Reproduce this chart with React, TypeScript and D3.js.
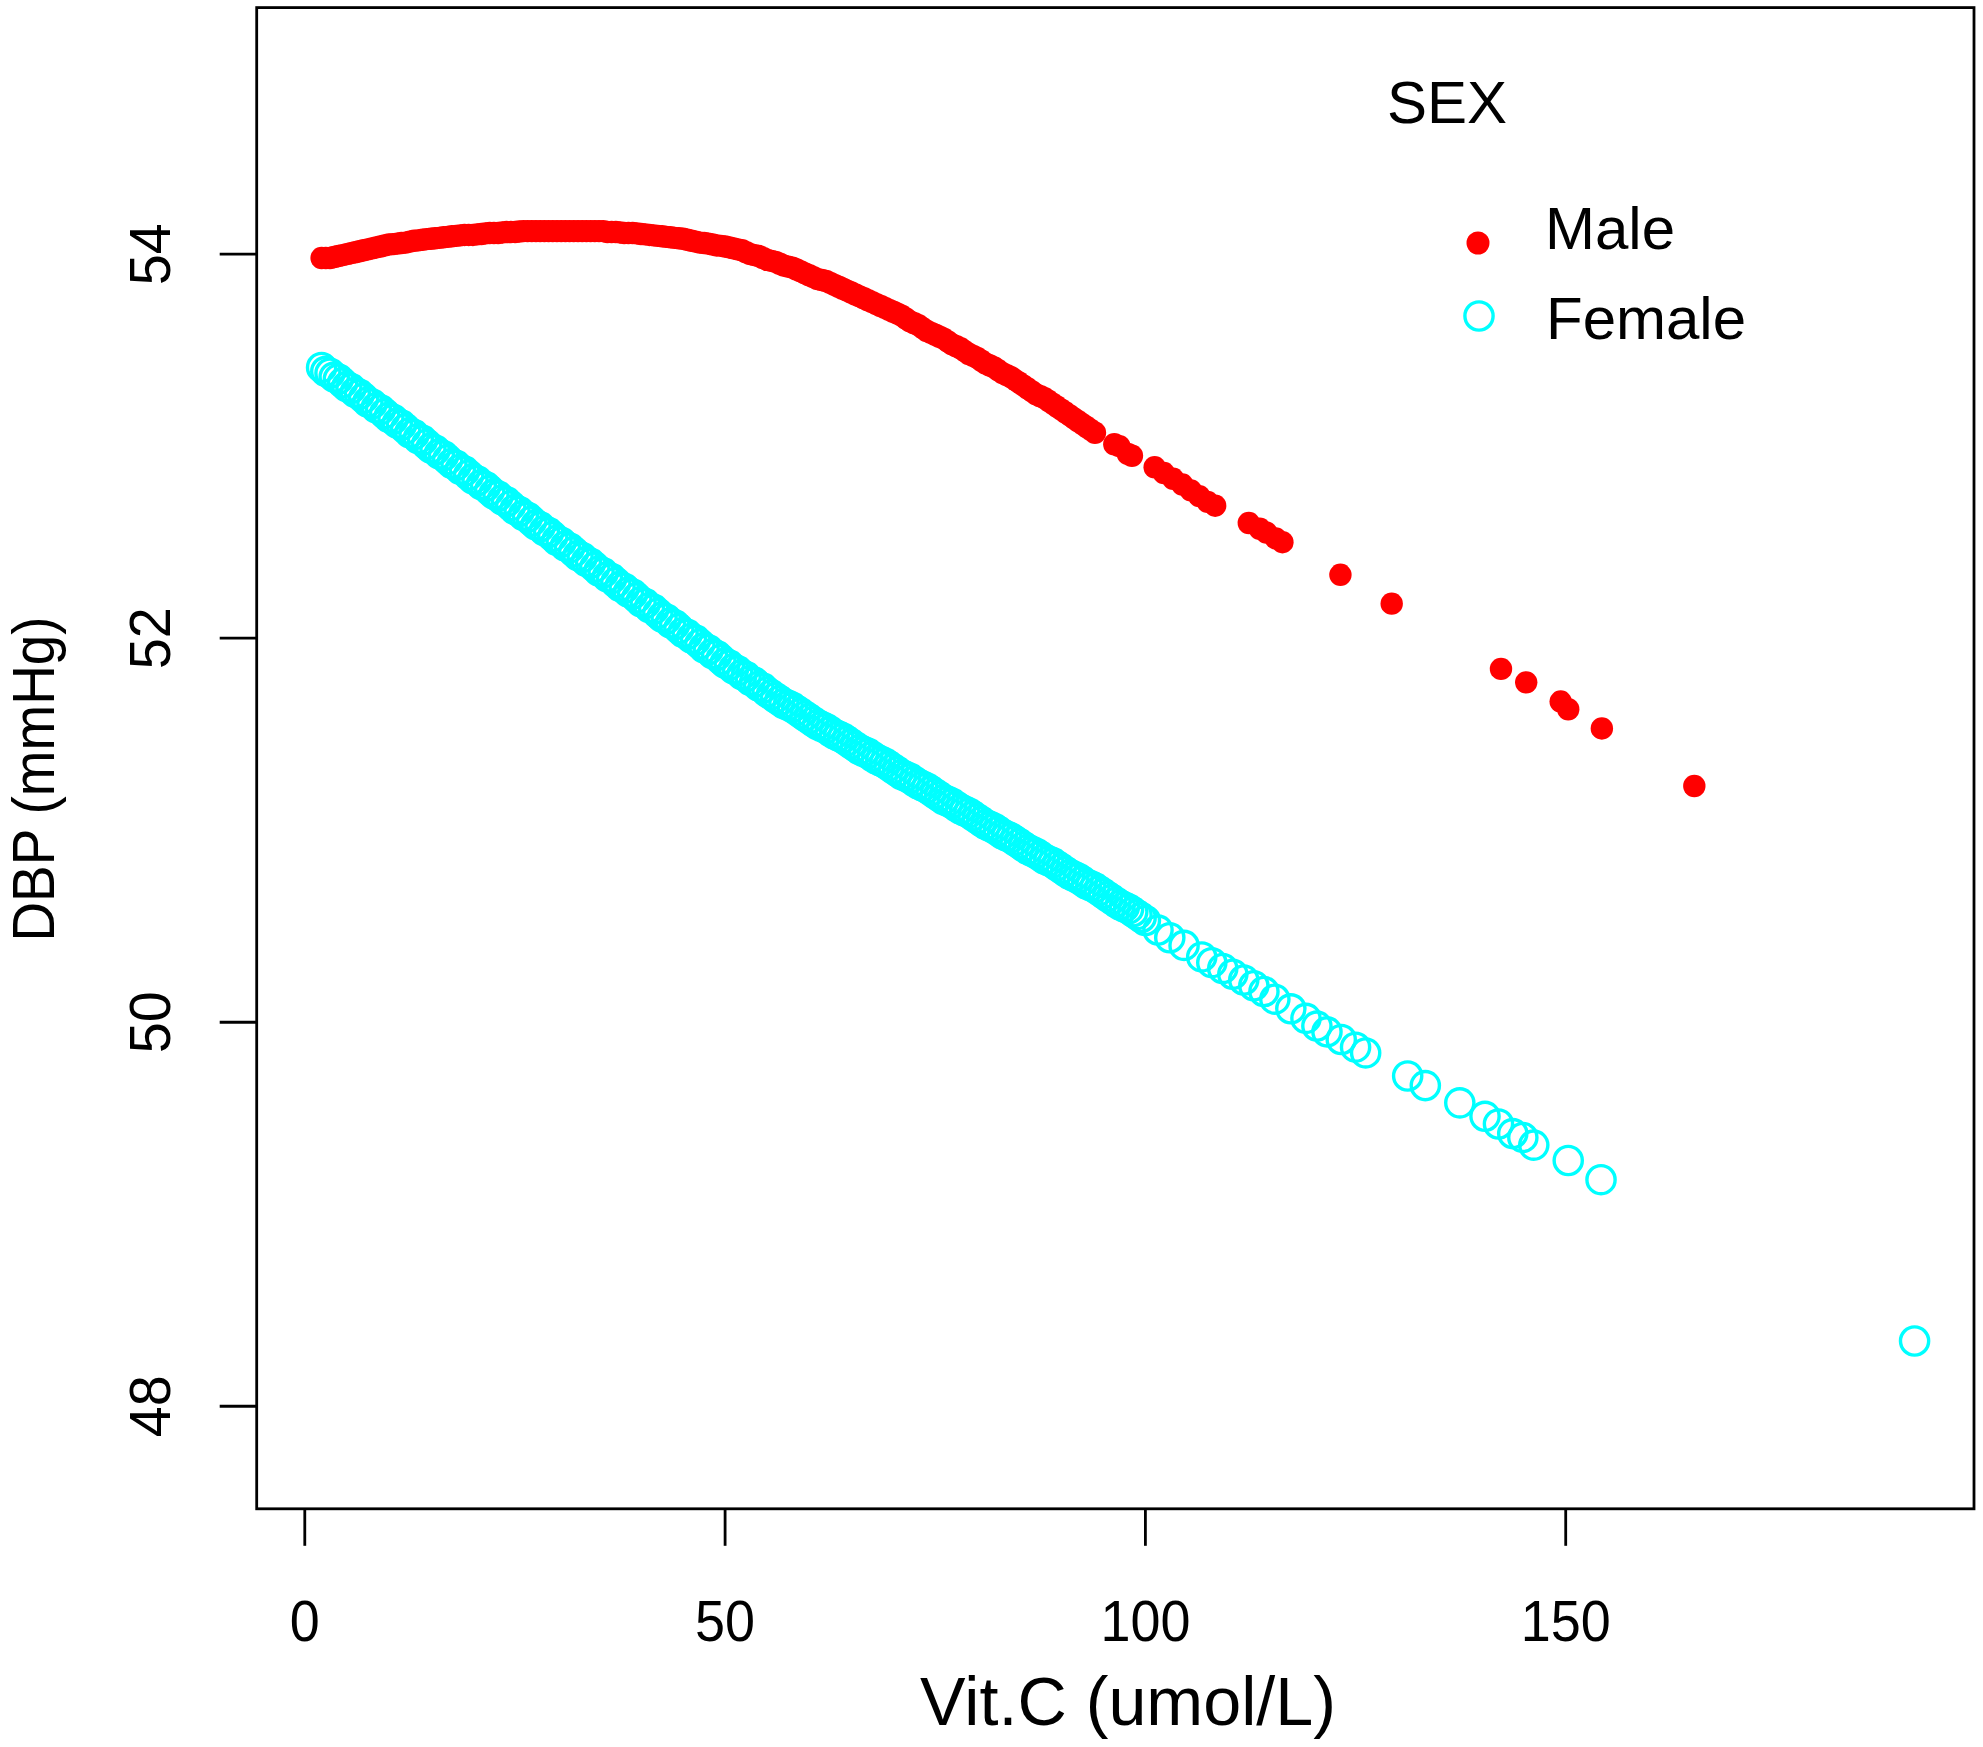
import * as d3 from 'd3'

// values (Vit.C umol/L, DBP mmHg)
const malePoints: [number, number][] = [
    [2, 53.98], [2.5, 53.98], [3, 53.98], [3.5, 53.985], [4, 53.99], [4.5, 53.995], [5, 54.0],
    [5.5, 54.005], [6, 54.01], [6.5, 54.015], [7, 54.02], [7.5, 54.025], [8, 54.03], [8.5, 54.035],
    [9, 54.04], [9.5, 54.045], [10, 54.05], [10.5, 54.052], [11, 54.055], [11.5, 54.058], [12, 54.06],
    [12.5, 54.065], [13, 54.07], [13.5, 54.072], [14, 54.075], [14.5, 54.078], [15, 54.08],
    [15.5, 54.083], [16, 54.085], [16.5, 54.088], [17, 54.09], [17.5, 54.093], [18, 54.095],
    [18.5, 54.098], [19, 54.1], [19.5, 54.1], [20, 54.1], [20.5, 54.103], [21, 54.105], [21.5, 54.108],
    [22, 54.11], [22.5, 54.11], [23, 54.11], [23.5, 54.113], [24, 54.115], [24.5, 54.115], [25, 54.115],
    [25.5, 54.118], [26, 54.12], [26.5, 54.12], [27, 54.12], [27.5, 54.12], [28, 54.12], [28.5, 54.12],
    [29, 54.12], [29.5, 54.12], [30, 54.12], [30.5, 54.12], [31, 54.12], [31.5, 54.12], [32, 54.12],
    [32.5, 54.12], [33, 54.12], [33.5, 54.12], [34, 54.12], [34.5, 54.12], [35, 54.12], [35.5, 54.12],
    [36, 54.115], [36.5, 54.115], [37, 54.115], [37.5, 54.113], [38, 54.11], [38.5, 54.11], [39, 54.11],
    [39.5, 54.108], [40, 54.105], [40.5, 54.103], [41, 54.1], [41.5, 54.098], [42, 54.095],
    [42.5, 54.093], [43, 54.09], [43.5, 54.088], [44, 54.085], [44.5, 54.083], [45, 54.08],
    [45.5, 54.075], [46, 54.07], [46.5, 54.065], [47, 54.06], [47.5, 54.058], [48, 54.055],
    [48.5, 54.05], [49, 54.045], [49.5, 54.043], [50, 54.04], [50.5, 54.035], [51, 54.03],
    [51.5, 54.025], [52, 54.02], [52.5, 54.01], [53, 54.0], [53.5, 53.995], [54, 53.99], [54.5, 53.98],
    [55, 53.97], [55.5, 53.965], [56, 53.96], [56.5, 53.95], [57, 53.94], [57.5, 53.935], [58, 53.93],
    [58.5, 53.92], [59, 53.91], [59.5, 53.9], [60, 53.89], [60.5, 53.88], [61, 53.87], [61.5, 53.865],
    [62, 53.86], [62.5, 53.85], [63, 53.84], [63.5, 53.83], [64, 53.82], [64.5, 53.81], [65, 53.8],
    [65.5, 53.79], [66, 53.78], [66.5, 53.77], [67, 53.76], [67.5, 53.75], [68, 53.74], [68.5, 53.73],
    [69, 53.72], [69.5, 53.71], [70, 53.7], [70.5, 53.69], [71, 53.68], [71.5, 53.665], [72, 53.65],
    [72.5, 53.64], [73, 53.63], [73.5, 53.615], [74, 53.6], [74.5, 53.59], [75, 53.58], [75.5, 53.57],
    [76, 53.56], [76.5, 53.545], [77, 53.53], [77.5, 53.52], [78, 53.51], [78.5, 53.495], [79, 53.48],
    [79.5, 53.47], [80, 53.46], [80.5, 53.445], [81, 53.43], [81.5, 53.42], [82, 53.41], [82.5, 53.395],
    [83, 53.38], [83.5, 53.37], [84, 53.36], [84.5, 53.345], [85, 53.33], [85.5, 53.315], [86, 53.3],
    [86.5, 53.285], [87, 53.27], [87.5, 53.26], [88, 53.25], [88.5, 53.235], [89, 53.22],
    [89.5, 53.205], [90, 53.19], [90.5, 53.175], [91, 53.16], [91.5, 53.145], [92, 53.13],
    [92.5, 53.115], [93, 53.1], [93.5, 53.085], [94, 53.07],
    [96.3, 53.01], [96.9, 53.0], [97.9, 52.96], [98.4, 52.95], [101.1, 52.89],
    [102.2, 52.86], [103.3, 52.83], [104.4, 52.8], [105.4, 52.77], [106.4, 52.74], [107.4, 52.71],
    [108.3, 52.69], [112.3, 52.6], [113.6, 52.57], [114.4, 52.55], [115.5, 52.52], [116.3, 52.5],
    [123.2, 52.33], [129.3, 52.18], [142.3, 51.84], [145.3, 51.77], [149.4, 51.67], [150.3, 51.63],
    [154.3, 51.53], [165.3, 51.23]
]

const femalePoints: [number, number][] = [
    [2, 53.41], [2.5, 53.39], [3, 53.38], [3.5, 53.36], [4, 53.35], [4.5, 53.33], [5, 53.31],
    [5.5, 53.3], [6, 53.28], [6.5, 53.27], [7, 53.25], [7.5, 53.23], [8, 53.22], [8.5, 53.2],
    [9, 53.19], [9.5, 53.17], [10, 53.15], [10.5, 53.14], [11, 53.12], [11.5, 53.11], [12, 53.09],
    [12.5, 53.07], [13, 53.06], [13.5, 53.04], [14, 53.03], [14.5, 53.01], [15, 52.99], [15.5, 52.98],
    [16, 52.96], [16.5, 52.95], [17, 52.93], [17.5, 52.91], [18, 52.9], [18.5, 52.88], [19, 52.87],
    [19.5, 52.85], [20, 52.83], [20.5, 52.82], [21, 52.8], [21.5, 52.79], [22, 52.77], [22.5, 52.75],
    [23, 52.74], [23.5, 52.72], [24, 52.71], [24.5, 52.69], [25, 52.67], [25.5, 52.66], [26, 52.64],
    [26.5, 52.63], [27, 52.61], [27.5, 52.59], [28, 52.58], [28.5, 52.56], [29, 52.55], [29.5, 52.53],
    [30, 52.51], [30.5, 52.5], [31, 52.48], [31.5, 52.47], [32, 52.45], [32.5, 52.43], [33, 52.42],
    [33.5, 52.4], [34, 52.39], [34.5, 52.37], [35, 52.35], [35.5, 52.34], [36, 52.32], [36.5, 52.31],
    [37, 52.29], [37.5, 52.27], [38, 52.26], [38.5, 52.24], [39, 52.23], [39.5, 52.21], [40, 52.19],
    [40.5, 52.18], [41, 52.16], [41.5, 52.15], [42, 52.13], [42.5, 52.11], [43, 52.1], [43.5, 52.08],
    [44, 52.07], [44.5, 52.05], [45, 52.03], [45.5, 52.02], [46, 52.0], [46.5, 51.99], [47, 51.97],
    [47.5, 51.95], [48, 51.94], [48.5, 51.92], [49, 51.91], [49.5, 51.89], [50, 51.87], [50.5, 51.86],
    [51, 51.84], [51.5, 51.83], [52, 51.81], [52.5, 51.8], [53, 51.78], [53.5, 51.77], [54, 51.75],
    [54.5, 51.74], [55, 51.72], [55.5, 51.705], [56, 51.69], [56.5, 51.675], [57, 51.66], [57.5, 51.65],
    [58, 51.64], [58.5, 51.625], [59, 51.61], [59.5, 51.595], [60, 51.58], [60.5, 51.565], [61, 51.55],
    [61.5, 51.54], [62, 51.53], [62.5, 51.515], [63, 51.5], [63.5, 51.49], [64, 51.48], [64.5, 51.465],
    [65, 51.45], [65.5, 51.435], [66, 51.42], [66.5, 51.41], [67, 51.4], [67.5, 51.385], [68, 51.37],
    [68.5, 51.36], [69, 51.35], [69.5, 51.335], [70, 51.32], [70.5, 51.305], [71, 51.29], [71.5, 51.28],
    [72, 51.27], [72.5, 51.255], [73, 51.24], [73.5, 51.23], [74, 51.22], [74.5, 51.205], [75, 51.19],
    [75.5, 51.175], [76, 51.16], [76.5, 51.15], [77, 51.14], [77.5, 51.125], [78, 51.11], [78.5, 51.1],
    [79, 51.09], [79.5, 51.075], [80, 51.06], [80.5, 51.045], [81, 51.03], [81.5, 51.02], [82, 51.01],
    [82.5, 50.995], [83, 50.98], [83.5, 50.97], [84, 50.96], [84.5, 50.945], [85, 50.93], [85.5, 50.915],
    [86, 50.9], [86.5, 50.89], [87, 50.88], [87.5, 50.865], [88, 50.85], [88.5, 50.84], [89, 50.83],
    [89.5, 50.815], [90, 50.8], [90.5, 50.785], [91, 50.77], [91.5, 50.76], [92, 50.75], [92.5, 50.735],
    [93, 50.72], [93.5, 50.71], [94, 50.7], [94.5, 50.685], [95, 50.67], [95.5, 50.655], [96, 50.64],
    [96.5, 50.625], [97, 50.61], [97.5, 50.6], [98, 50.59], [98.5, 50.575], [99, 50.56], [99.5, 50.545],
    [100, 50.53], [101.5, 50.48], [102.9, 50.44],
    [104.6, 50.4], [106.7, 50.34], [107.9, 50.31], [109.2, 50.28], [110.4, 50.25], [111.7, 50.22],
    [112.9, 50.19], [114.1, 50.16], [115.4, 50.12], [117.3, 50.07], [119.1, 50.02], [120.4, 49.98],
    [121.6, 49.95], [123.3, 49.91], [125.0, 49.87], [126.2, 49.84], [131.2, 49.72], [133.3, 49.67],
    [137.4, 49.58], [140.4, 49.51], [142.0, 49.47], [143.7, 49.42], [144.9, 49.4], [146.2, 49.36],
    [150.3, 49.28], [154.2, 49.18], [191.5, 48.34]
]

const xTicks = [0, 50, 100, 150]
const yTicks = [48, 50, 52, 54]
const legendTitle = 'SEX'
const legendLabels = ['Male', 'Female']
const xTitle = 'Vit.C (umol/L)'
const yTitle = 'DBP (mmHg)'

const App = () => {
    const svgWidth = 1983
    const svgHeight = 1747
    const box = { left: 256.7, right: 1974, top: 7.6, bottom: 1508.8 }
    const font = '"Liberation Sans", Arial, Helvetica, sans-serif'
    const tickLen = 37
    const red = '#ff0000'
    const cyan = '#00ffff'

    const x = d3.scaleLinear().domain([-5.72, 198.57]).range([box.left, box.right])
    const y = d3.scaleLinear().domain([47.466, 55.284]).range([box.bottom, box.top])

    const xAxis = xTicks.map((v, i) => (
        <g key={'xt' + i}>
            <line x1={x(v)} x2={x(v)} y1={box.bottom} y2={box.bottom + tickLen} stroke="black" strokeWidth={2.8} />
            <text
                x={x(v)}
                y={1641}
                textAnchor="middle"
                fontSize={58}
                textLength={String(v).length * 30}
                lengthAdjust="spacingAndGlyphs"
            >
                {v}
            </text>
        </g>
    ))

    const yAxis = yTicks.map((v, i) => (
        <g key={'yt' + i}>
            <line x1={box.left - tickLen} x2={box.left} y1={y(v)} y2={y(v)} stroke="black" strokeWidth={2.8} />
            <text
                x={170}
                y={y(v)}
                transform={`rotate(-90, 170, ${y(v)})`}
                textAnchor="middle"
                fontSize={58}
                textLength={String(v).length * 31}
                lengthAdjust="spacingAndGlyphs"
            >
                {v}
            </text>
        </g>
    ))

    const females = femalePoints.map((d, i) => (
        <circle key={'f' + i} cx={x(d[0])} cy={y(d[1])} r={14.1} fill="none" stroke={cyan} strokeWidth={3.4} />
    ))

    const males = malePoints.map((d, i) => (
        <circle key={'m' + i} cx={x(d[0])} cy={y(d[1])} r={11.2} fill={red} />
    ))

    return (
        <svg
            width={svgWidth}
            height={svgHeight}
            style={{ position: 'absolute', left: 0, top: 0, background: 'white' }}
            fontFamily={font}
        >
            <rect x={0} y={0} width={svgWidth} height={svgHeight} fill="white" />
            {females}
            {males}
            <rect
                x={box.left}
                y={box.top}
                width={box.right - box.left}
                height={box.bottom - box.top}
                fill="none"
                stroke="black"
                strokeWidth={2.8}
            />
            {xAxis}
            {yAxis}
            <text x={1128} y={1725} textAnchor="middle" fontSize={69} textLength={416} lengthAdjust="spacingAndGlyphs">
                {xTitle}
            </text>
            <text
                x={54}
                y={779}
                transform="rotate(-90, 54, 779)"
                textAnchor="middle"
                fontSize={59}
                textLength={325}
                lengthAdjust="spacingAndGlyphs"
            >
                {yTitle}
            </text>
            <g>
                <text x={1387} y={123} fontSize={60}>{legendTitle}</text>
                <circle cx={1478} cy={243} r={11.5} fill={red} />
                <text x={1545} y={249} fontSize={60}>{legendLabels[0]}</text>
                <circle cx={1479} cy={316} r={14.1} fill="none" stroke={cyan} strokeWidth={3.4} />
                <text x={1546} y={339} fontSize={60}>{legendLabels[1]}</text>
            </g>
        </svg>
    )
}

export default App
